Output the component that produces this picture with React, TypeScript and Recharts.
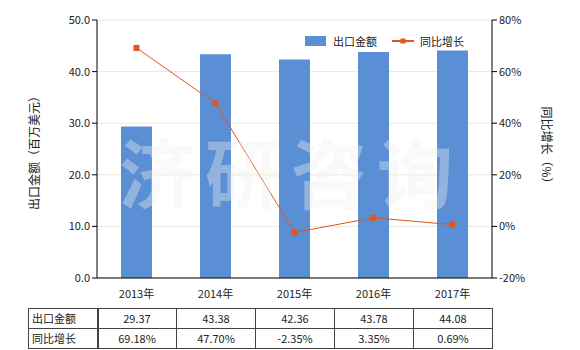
import { Bar, CartesianGrid, ComposedChart, Line, XAxis, YAxis } from "recharts";

// values
const years = ["2013年", "2014年", "2015年", "2016年", "2017年"];
const exportValue = [29.37, 43.38, 42.36, 43.78, 44.08];
const growth = [69.18, 47.7, -2.35, 3.35, 0.69];
const leftTicks = [0, 10, 20, 30, 40, 50];
const rightTicks = [-20, 0, 20, 40, 60, 80];

const BAR = "#5b8fd5";
const LINE = "#e0561d";
const GRID = "#ebe9d9";
const FONT = '"Noto Sans CJK SC", "Noto Sans", sans-serif';

const data = years.map((year, i) => ({
  year,
  value: exportValue[i],
  growth: growth[i],
}));

const Square = (props: any) => {
  const { cx, cy } = props;
  if (cx == null || cy == null) return null;
  return <rect x={cx - 3} y={cy - 3} width={6} height={6} fill={LINE} />;
};

const LegendBox = () => (
  <div
    style={{
      position: "absolute",
      left: 305,
      top: 33,
      display: "flex",
      alignItems: "center",
      fontSize: 11,
      color: "#222",
      fontFamily: FONT,
    }}
  >
    <span style={{ display: "inline-block", width: 21, height: 10, background: BAR, marginRight: 7 }} />
    <span style={{ marginRight: 15 }}>出口金额</span>
    <svg width={22} height={10} style={{ marginRight: 6 }}>
      <line x1={0} y1={5} x2={22} y2={5} stroke={LINE} strokeWidth={2} />
      <rect x={8.5} y={2.5} width={5} height={5} fill={LINE} />
    </svg>
    <span>同比增长</span>
  </div>
);

const tick = { fontSize: 11, fill: "#222", fontFamily: FONT };

// table cells line up with the category bands (97..493)
const firstCol = { left: 28, width: 70 };
const colW = 79;
const cell = {
  position: "absolute" as const,
  height: 21,
  border: "1px solid #444",
  boxSizing: "border-box" as const,
  fontSize: 11,
  lineHeight: "19px",
  color: "#222",
  fontFamily: FONT,
};

export default function App() {
  const rows = [
    { name: "出口金额", vals: exportValue.map((v) => v.toFixed(2)) },
    { name: "同比增长", vals: growth.map((v) => v.toFixed(2) + "%") },
  ];
  return (
    <div style={{ position: "absolute", left: 0, top: 0, width: 580, height: 350, background: "#fff" }}>
      <ComposedChart
        width={580}
        height={350}
        data={data}
        margin={{ top: 20, right: 38, bottom: 42, left: 37 }}
        barSize={31}
        style={{ position: "absolute", left: 0, top: 0 }}
      >
        <CartesianGrid stroke={GRID} vertical={false} yAxisId="left" />
        <XAxis
          dataKey="year"
          height={30}
          tick={tick}
          tickLine={false}
          axisLine={{ stroke: "#000" }}
          tickMargin={6}
        />
        <YAxis
          yAxisId="left"
          width={60}
          domain={[0, 50]}
          ticks={leftTicks}
          tickFormatter={(v: number) => v.toFixed(1)}
          tick={tick}
          axisLine={{ stroke: "#000" }}
          tickLine={{ stroke: "#000" }}
          tickSize={5}
        />
        <YAxis
          yAxisId="right"
          orientation="right"
          width={50}
          domain={[-20, 80]}
          ticks={rightTicks}
          tickFormatter={(v: number) => v + "%"}
          tick={tick}
          axisLine={{ stroke: "#000" }}
          tickLine={{ stroke: "#000" }}
          tickSize={5}
        />
        <Bar yAxisId="left" dataKey="value" fill={BAR} isAnimationActive={false} />
        <Line
          yAxisId="right"
          dataKey="growth"
          stroke={LINE}
          strokeWidth={1}
          dot={<Square />}
          activeDot={false}
          isAnimationActive={false}
        />
      </ComposedChart>
      {/* watermark sits over the bars, whitish and translucent */}
      <div
        style={{
          position: "absolute",
          left: 119,
          top: 132,
          fontSize: 76,
          lineHeight: 1,
          letterSpacing: 10,
          color: "rgba(238,238,238,0.38)",
          fontFamily: FONT,
          fontWeight: 700,
          whiteSpace: "nowrap",
          pointerEvents: "none",
        }}
      >
        济研咨询
      </div>
      <LegendBox />
      <svg width={580} height={350} style={{ position: "absolute", left: 0, top: 0, pointerEvents: "none" }}>
        <text
          x={33}
          y={150}
          transform="rotate(-90 33 150)"
          textAnchor="middle"
          dominantBaseline="central"
          fontSize={12}
          fill="#222"
          fontFamily={FONT}
        >
          出口金额（百万美元）
        </text>
        <text
          x={547}
          y={148}
          transform="rotate(90 547 148)"
          textAnchor="middle"
          dominantBaseline="central"
          fontSize={12}
          fill="#222"
          fontFamily={FONT}
        >
          同比增长（%）
        </text>
      </svg>
      {rows.map((row, r) => (
        <div key={row.name}>
          <div style={{ ...cell, left: firstCol.left, top: 308 + r * 20, width: firstCol.width + 1, paddingLeft: 3 }}>
            {row.name}
          </div>
          {row.vals.map((v, i) => (
            <div
              key={i}
              style={{
                ...cell,
                left: 97 + i * colW,
                top: 308 + r * 20,
                width: colW + 1,
                textAlign: "center",
              }}
            >
              {v}
            </div>
          ))}
        </div>
      ))}
    </div>
  );
}
